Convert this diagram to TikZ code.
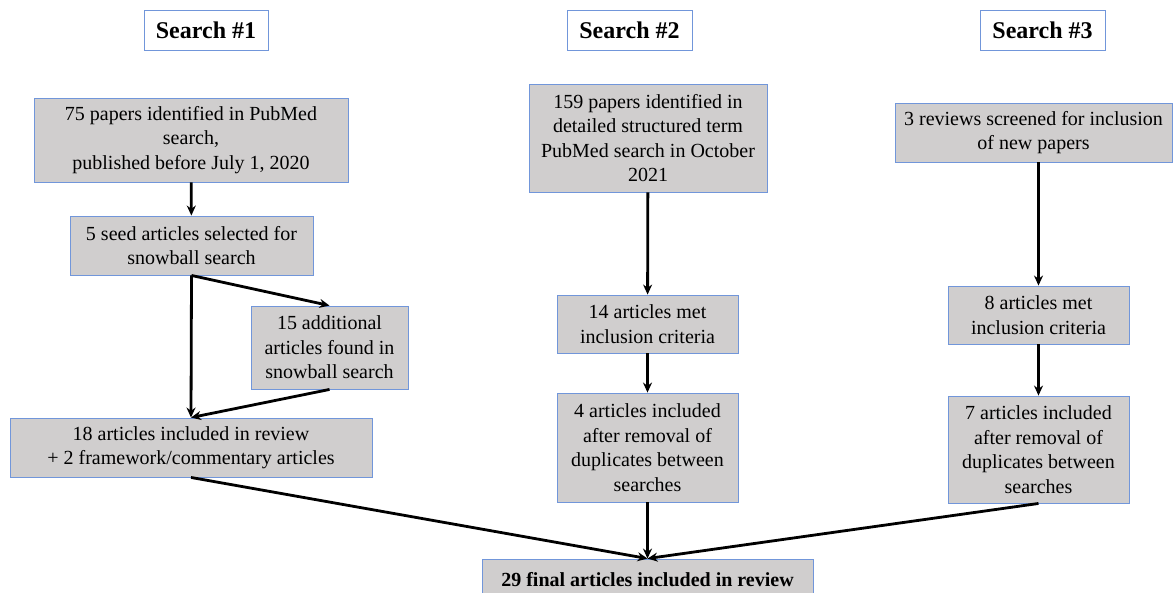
\documentclass[tikz,border=0pt]{standalone}
\usepackage{fontspec}
\setmainfont{Liberation Serif}
\newfontfamily\timesfont{Liberation Serif}
\usepackage{tikz}
\usetikzlibrary{arrows.meta}
\definecolor{boxgray}{HTML}{D0CECE}
\definecolor{boxblue}{HTML}{7196DA}

\begin{document}
\begin{tikzpicture}[x=1pt, y=-1pt,
    box/.style={draw=boxblue, fill=boxgray, line width=0.9pt, align=center,
      inner sep=0pt, font=\timesfont\fontsize{20}{24.5}\selectfont},
    head/.style={draw=boxblue, fill=white, line width=0.9pt, inner sep=0pt,
      font=\timesfont\fontsize{24}{28}\selectfont\bfseries},
    flow/.style={line width=2.8pt, -{Stealth[length=10pt, width=9pt]}}]
    \useasboundingbox (0,0) rectangle (1174,592);

    % headings
    \node[head, minimum width=124pt, minimum height=40pt](s1) at (206, 30){Search \#1};
    \node[head, minimum width=125pt, minimum height=40pt](s2) at (629.5, 30){Search \#2};
    \node[head, minimum width=125pt, minimum height=40pt](s3) at (1042.5, 30){Search \#3};

    % search 1
    \node[box, minimum width=314pt, minimum height=84pt](pubmed) at (191, 140)
      {75 papers identified in PubMed\\search,\\published before July 1, 2020};
    \node[box, minimum width=243pt, minimum height=59pt](seed) at (191.5, 245.5)
      {5 seed articles selected for\\snowball search};
    \node[box, minimum width=157pt, minimum height=83pt](snowball) at (329.5, 347.5)
      {15 additional\\articles found in\\snowball search};
    \node[box, minimum width=362pt, minimum height=59pt](incl) at (191, 447.5)
      {18 articles included in review\\+ 2 framework/commentary articles};

    % search 2
    \node[box, minimum width=238pt, minimum height=108pt](structured) at (648, 138)
      {159 papers identified in\\detailed structured term\\PubMed search in October\\2021};
    \node[box, minimum width=181pt, minimum height=58pt](met) at (647.5, 324)
      {14 articles met\\inclusion criteria};
    \node[box, minimum width=181pt, minimum height=109pt](dedup) at (647.5, 447.5)
      {4 articles included\\after removal of\\duplicates between\\searches};

    % search 3
    \node[box, minimum width=277pt, minimum height=59pt](reviews) at (1033.5, 132.5)
      {3 reviews screened for inclusion\\of new papers};
    \node[box, minimum width=181pt, minimum height=58pt](metrev) at (1038.5, 315)
      {8 articles met\\inclusion criteria};
    \node[box, minimum width=181pt, minimum height=107pt](deduprev) at (1038.5, 449.5)
      {7 articles included\\after removal of\\duplicates between\\searches};

    % final
    \node[box, minimum width=331pt, minimum height=41pt, font=\timesfont\fontsize{20}{24.5}\selectfont\bfseries](final)
      at (647.5, 579.5){29 final articles included in review};

    % arrows
    \draw[flow] (pubmed) -- (seed);
    \draw[flow] (seed.south) -- (snowball.north);
    \draw[flow] (seed.south) -- (incl.north);
    \draw[flow] (snowball.south) -- (incl.north);
    \draw[flow] (structured) -- (met);
    \draw[flow] (met) -- (dedup);
    \draw[flow] (metrev.north |- reviews.south) -- (metrev.north);
    \draw[flow] (metrev) -- (deduprev);
    \draw[flow] (incl.south) -- (final.north);
    \draw[flow] (dedup.south) -- (final.north);
    \draw[flow] (deduprev.south) -- (final.north);
  \end{tikzpicture}
\end{document}
